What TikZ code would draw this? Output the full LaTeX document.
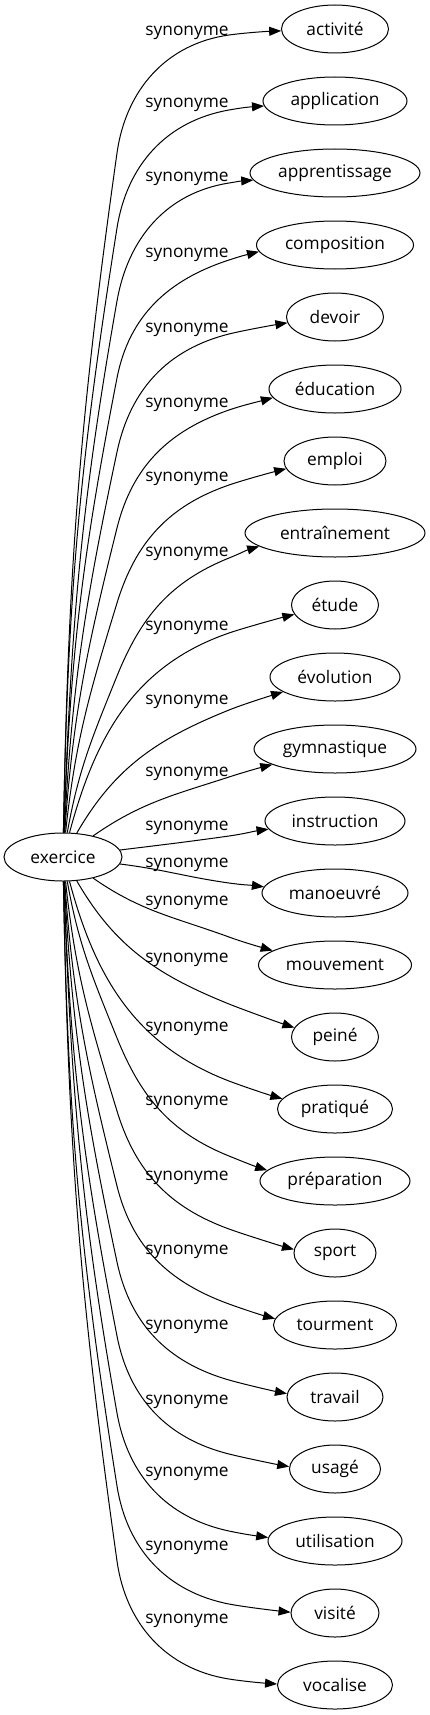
\documentclass[tikz,border=0pt]{standalone}
\usepackage{fontspec}
\setmainfont{Open Sans}
\usetikzlibrary{shapes.geometric,arrows.meta,calc}
% far edge: #1 target, #2 sign (1 up, -1 down), #3 K y, #4 Q y, #5 exit angle, #6 tangent at Q, #7 slope at K, #8 arrival slope, #9 tip anchor angle
\newcommand{\faredge}[9]{%
  \pgfmathsetmacro\edgA{#2*#5}%
  \pgfmathsetmacro\edgQ{#2*#6}%
  \pgfmathsetmacro\edgQin{#2*#6+180}%
  \pgfmathsetmacro\edgB{#2*#7}%
  \pgfmathsetmacro\edgBin{180+#2*#7}%
  \pgfmathsetmacro\edgG{180+#2*#8}%
  \draw[syn] (ex) to[out=\edgA, in=\edgQin] (117,#4) to[out=\edgQ, in=\edgBin] (229,#3)
    .. controls +(\edgB:15pt) and ($(#1.#9)+(\edgG:15pt)$) .. (#1.#9);}
% near edge: #1 target, #2 sign, #3 K y, #4 exit angle, #5 slope at K, #6 arrival slope, #7 tip anchor angle
\newcommand{\nearedge}[7]{%
  \pgfmathsetmacro\edgA{#2*#4}%
  \pgfmathsetmacro\edgB{#2*#5}%
  \pgfmathsetmacro\edgBin{180+#2*#5}%
  \pgfmathsetmacro\edgG{180+#2*#6}%
  \draw[syn] (ex) to[out=\edgA, in=\edgBin] (229,#3)
    .. controls +(\edgB:15pt) and ($(#1.#7)+(\edgG:15pt)$) .. (#1.#7);}
\begin{document}
\begin{tikzpicture}[x=1pt,y=-1pt,
  every node/.style={font=\fontsize{17.3}{20}\selectfont},
  term/.style={draw, ellipse, line width=1pt, minimum height=48pt, inner sep=0pt},
  synlabel/.style={inner sep=0pt},
  syn/.style={line width=1pt, -{Triangle[length=12pt,width=9pt]}}]
\fill[white] (0,0) rectangle (430,1715);
\useasboundingbox (0,0) rectangle (430,1715);
\node[term, minimum width=118pt] (ex) at (63,857) {exercice};
\node[term, minimum width=107pt] (t0) at (335,29) {activité};
\node[term, minimum width=144pt] (t1) at (335,101) {application};
\node[term, minimum width=170pt] (t2) at (335,173) {apprentissage};
\node[term, minimum width=157pt] (t3) at (335,245) {composition};
\node[term, minimum width=97pt] (t4) at (335,317) {devoir};
\node[term, minimum width=132pt] (t5) at (335,389) {éducation};
\node[term, minimum width=102pt] (t6) at (335,461) {emploi};
\node[term, minimum width=180pt] (t7) at (335,533) {entraînement};
\node[term, minimum width=87pt] (t8) at (335,605) {étude};
\node[term, minimum width=130pt] (t9) at (335,677) {évolution};
\node[term, minimum width=162pt] (t10) at (335,749) {gymnastique};
\node[term, minimum width=140pt] (t11) at (335,821) {instruction};
\node[term, minimum width=146pt] (t12) at (335,893) {manoeuvré};
\node[term, minimum width=153pt] (t13) at (335,965) {mouvement};
\node[term, minimum width=87pt] (t14) at (335,1037) {peiné};
\node[term, minimum width=115pt] (t15) at (335,1109) {pratiqué};
\node[term, minimum width=150pt] (t16) at (335,1181) {préparation};
\node[term, minimum width=82pt] (t17) at (335,1253) {sport};
\node[term, minimum width=123pt] (t18) at (335,1325) {tourment};
\node[term, minimum width=96pt] (t19) at (335,1397) {travail};
\node[term, minimum width=91pt] (t20) at (335,1469) {usagé};
\node[term, minimum width=134pt] (t21) at (335,1541) {utilisation};
\node[term, minimum width=88pt] (t22) at (335,1613) {visité};
\node[term, minimum width=115pt] (t23) at (335,1685) {vocalise};
% labels
\node[synlabel] (l0) at (187,33) {synonyme};
\node[synlabel] (l1) at (187,105) {synonyme};
\node[synlabel] (l2) at (187,179) {synonyme};
\node[synlabel] (l3) at (187,255) {synonyme};
\node[synlabel] (l4) at (187,330) {synonyme};
\node[synlabel] (l5) at (187,405) {synonyme};
\node[synlabel] (l6) at (187,479) {synonyme};
\node[synlabel] (l7) at (187,554) {synonyme};
\node[synlabel] (l8) at (187,628) {synonyme};
\node[synlabel] (l9) at (187,702) {synonyme};
\node[synlabel] (l10) at (187,774) {synonyme};
\node[synlabel] (l11) at (187,828) {synonyme};
\node[synlabel] (l12) at (187,865) {synonyme};
\node[synlabel] (l13) at (187,903) {synonyme};
\node[synlabel] (l14) at (187,960) {synonyme};
\node[synlabel] (l15) at (187,1029) {synonyme};
\node[synlabel] (l16) at (187,1103) {synonyme};
\node[synlabel] (l17) at (187,1178) {synonyme};
\node[synlabel] (l18) at (187,1252) {synonyme};
\node[synlabel] (l19) at (187,1327) {synonyme};
\node[synlabel] (l20) at (187,1402) {synonyme};
\node[synlabel] (l21) at (187,1474) {synonyme};
\node[synlabel] (l22) at (187,1548) {synonyme};
\node[synlabel] (l23) at (187,1621) {synonyme};
% edges, upper half
\faredge{t0}{1}{35}{153}{89}{82}{8}{2}{182}
\faredge{t1}{1}{110}{228}{89}{81}{10}{4}{184}
\faredge{t2}{1}{183}{301}{88}{80}{9}{4}{185}
\faredge{t3}{1}{260}{378}{88}{79}{18}{14}{185}
\faredge{t4}{1}{334}{452}{87}{78}{14}{9}{187}
\faredge{t5}{1}{410}{528}{86}{76}{19}{15}{188}
\faredge{t6}{1}{485}{603}{84}{73}{19}{14}{189}
\faredge{t7}{1}{558}{676}{80}{68}{22}{17}{190}
\nearedge{t8}{1}{633}{75}{19}{14}{193}
\nearedge{t9}{1}{710}{60}{22}{17}{196}
\nearedge{t10}{1}{777}{35}{18}{14}{194}
\nearedge{t11}{1}{836}{7}{8}{8}{187}
% edges, lower half
\nearedge{t12}{-1}{883}{7}{8}{7}{175}
\nearedge{t13}{-1}{937}{35}{20}{16}{167}
\nearedge{t14}{-1}{1004}{60}{22}{18}{167}
\nearedge{t15}{-1}{1081}{75}{21}{16}{169}
\faredge{t16}{-1}{1156}{1038}{80}{68}{22}{18}{171}
\faredge{t17}{-1}{1229}{1111}{84}{73}{20}{15}{175}
\faredge{t18}{-1}{1304}{1186}{86}{76}{20}{15}{174}
\faredge{t19}{-1}{1380}{1262}{87}{78}{16}{11}{176}
\faredge{t20}{-1}{1454}{1336}{88}{79}{14}{10}{177}
\faredge{t21}{-1}{1531}{1413}{88}{80}{12}{8}{177}
\faredge{t22}{-1}{1604}{1486}{89}{81}{11}{6}{179}
\faredge{t23}{-1}{1679}{1561}{89}{82}{9}{4}{179}
\end{tikzpicture}
\end{document}
